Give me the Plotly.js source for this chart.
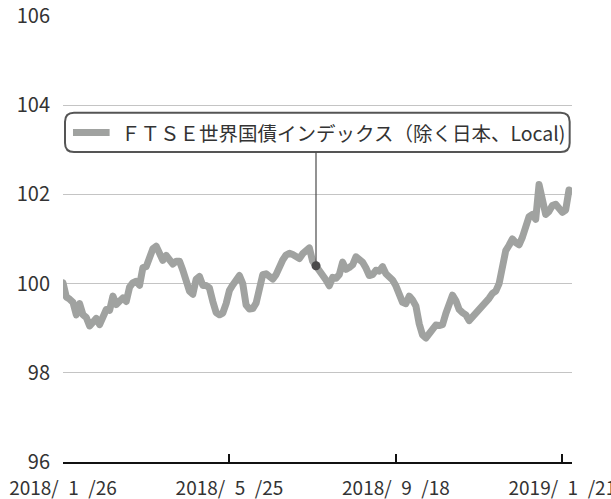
<!DOCTYPE html>
<html>
<head>
<meta charset="utf-8">
<script src="https://cdn.plot.ly/plotly-3.0.1.min.js"></script>
<style>
html,body{margin:0;padding:0;background:#fff;}
#chart{width:611px;height:499px;}
</style>
</head>
<body>
<div id="chart"></div>
<script>
// Series name
const seriesName = "ＦＴＳＥ世界国債インデックス（除く日本、Local)";
// Trading-day index values (about 50 trading days between labelled ticks)
const indexValues = [
  100.02, 99.70, 99.65, 99.58, 99.30, 99.55, 99.30, 99.24, 99.05, 99.15,
  99.22, 99.08, 99.30, 99.42, 99.40, 99.72, 99.53, 99.60, 99.68, 99.60,
  99.92, 100.02, 100.05, 99.96, 100.36, 100.38, 100.60, 100.78, 100.84, 100.70,
  100.52, 100.63, 100.55, 100.44, 100.50, 100.50, 100.30, 99.98, 99.83, 99.76,
  100.10, 100.16, 99.96, 99.96, 99.90, 99.60, 99.35, 99.30, 99.34, 99.55,
  99.85, 99.97, 100.08, 100.18, 100.00, 99.52, 99.43, 99.44, 99.56, 99.98,
  100.20, 100.22, 100.17, 100.10, 100.20, 100.40, 100.53, 100.64, 100.68, 100.65,
  100.58, 100.56, 100.67, 100.72, 100.80, 100.50, 100.40, 100.32, 100.22, 100.08,
  99.95, 100.14, 100.12, 100.20, 100.48, 100.32, 100.36, 100.42, 100.60, 100.55,
  100.48, 100.35, 100.18, 100.20, 100.30, 100.28, 100.38, 100.22, 100.16, 100.08,
  99.95, 99.70, 99.58, 99.55, 99.72, 99.63, 99.50, 99.10, 98.85, 98.78,
  98.90, 98.98, 99.07, 99.06, 99.08, 99.33, 99.55, 99.74, 99.62, 99.42,
  99.35, 99.30, 99.17, 99.25, 99.32, 99.40, 99.52, 99.57, 99.67, 99.78,
  99.83, 100.00, 100.36, 100.74, 100.86, 101.00, 100.92, 100.87, 101.04, 101.34,
  101.50, 101.55, 101.44, 102.22, 101.82, 101.55, 101.62, 101.75, 101.78, 101.68,
  101.60, 101.65, 102.10
];
// Tick labels (trading-day index positions 0, 50, 100, 150)
const tickPositions = [0, 50, 100, 150];
const tickLabels = ["2018/\u20021\u2002/26", "2018/\u20025\u2002/25", "2018/\u20029\u2002/18", "2019/\u20021\u2002/21"];
const yTicks = [96, 98, 100, 102, 104, 106];
// Highlighted point (linked to the legend box)
const highlightIndex = 76;

const xIdx = indexValues.map((_, i) => i);

const font = "'Noto Sans CJK JP', 'Noto Sans', sans-serif";
const lineGray = "#a0a2a0";
const boxColor = "#555555";

const traces = [
  {
    x: xIdx, y: indexValues, type: "scatter", mode: "lines",
    name: seriesName,
    line: {color: lineGray, width: 7, shape: "linear"},
    hoverinfo: "skip", showlegend: false
  },
  {
    x: [highlightIndex], y: [indexValues[highlightIndex]],
    type: "scatter", mode: "markers",
    marker: {color: "#4a4a4a", size: 9},
    hoverinfo: "skip", showlegend: false
  }
];

const boxTop = 103.83, boxBottom = 102.95, boxLeft = 0.6, boxRight = 152.2;
const boxMid = (boxTop + boxBottom) / 2;

const layout = {
  width: 611, height: 499,
  margin: {l: 63, r: 39, t: 16, b: 37},
  paper_bgcolor: "#fff", plot_bgcolor: "#fff",
  font: {family: font, size: 20, color: "#333"},
  showlegend: false,
  xaxis: {
    range: [0, 152.9], fixedrange: true,
    tickmode: "array", tickvals: tickPositions, ticktext: tickLabels,
    showgrid: false, zeroline: false,
    showline: true, linecolor: "#111", linewidth: 2,
    ticks: "inside", ticklen: 8, tickwidth: 2, tickcolor: "#111",
    tickfont: {family: font, size: 19, color: "#333"},
    ticklabelstandoff: 8,
    ticklabeloverflow: "allow"
  },
  yaxis: {
    range: [96, 106], fixedrange: true,
    tickmode: "array", tickvals: yTicks,
    showgrid: true, gridcolor: "#c4c4c4", gridwidth: 1,
    zeroline: false, showline: false, ticks: "",
    tickfont: {family: font, size: 20, color: "#333"},
    ticklabelstandoff: 12
  },
  shapes: [
    {
      type: "rect", xref: "x", yref: "y",
      x0: boxLeft, x1: boxRight, y0: boxBottom, y1: boxTop,
      line: {color: boxColor, width: 2}, fillcolor: "#fff", layer: "above"
    },
    {
      type: "line", xref: "x", yref: "y",
      x0: highlightIndex, x1: highlightIndex,
      y0: indexValues[highlightIndex], y1: boxBottom,
      line: {color: "#4a4a4a", width: 1.2}, layer: "above"
    },
    {
      type: "line", xref: "x", yref: "y",
      x0: 3.0, x1: 14.0, y0: boxMid, y1: boxMid,
      line: {color: lineGray, width: 7}, layer: "above"
    }
  ],
  annotations: [
    {
      xref: "x", yref: "y", x: 16.8, y: boxMid,
      xanchor: "left", yanchor: "middle",
      text: seriesName, showarrow: false,
      font: {family: font, size: 19.5, color: "#333"}
    }
  ]
};

Plotly.newPlot("chart", traces, layout, {displayModeBar: false, staticPlot: true}).then(() => {
  // round the corners of the legend box
  const rect = document.querySelectorAll(".shapelayer path")[0];
  if (rect) {
    const bb = rect.getBBox();
    const r = 9;
    const x0 = bb.x, y0 = bb.y, x1 = bb.x + bb.width, y1 = bb.y + bb.height;
    rect.setAttribute("d",
      `M${x0 + r},${y0}H${x1 - r}Q${x1},${y0} ${x1},${y0 + r}V${y1 - r}Q${x1},${y1} ${x1 - r},${y1}` +
      `H${x0 + r}Q${x0},${y1} ${x0},${y1 - r}V${y0 + r}Q${x0},${y0} ${x0 + r},${y0}Z`);
  }
  document.querySelectorAll(".scatterlayer .js-line").forEach(p => {
    p.style.strokeLinejoin = "round";
    p.style.strokeLinecap = "round";
  });
});
</script>
</body>
</html>
